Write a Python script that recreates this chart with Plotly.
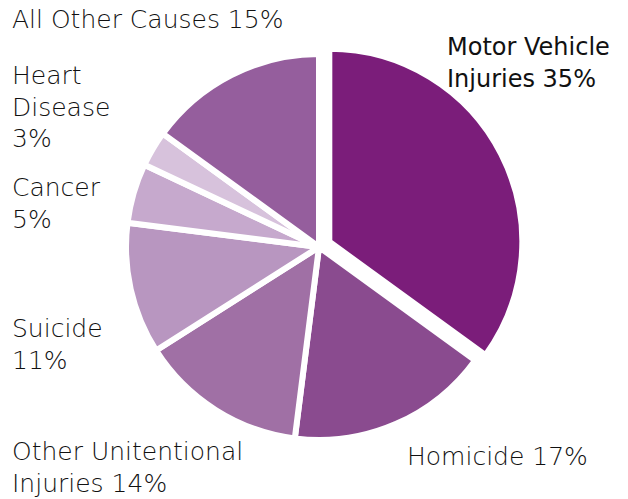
import plotly.graph_objects as go

categories = ["Motor Vehicle Injuries", "Homicide", "Other Unitentional Injuries",
              "Suicide", "Cancer", "Heart Disease", "All Other Causes"]
values = [35, 17, 14, 11, 5, 3, 15]
colors = ["#7B1D7A", "#8A4B8F", "#A070A5", "#B896C0", "#C6A9CD", "#D7C2DC", "#955E9D"]
pulls = [0.06, 0, 0, 0, 0, 0, 0]

# label text lines (as shown on the chart)
label_lines = [
    ["Motor Vehicle", "Injuries 35%"],
    ["Homicide 17%"],
    ["Other Unitentional", "Injuries 14%"],
    ["Suicide", "11%"],
    ["Cancer", "5%"],
    ["Heart", "Disease", "3%"],
    ["All Other Causes 15%"],
]
# label anchor positions in pixels (left x, first-line center y)
label_pos = [(445, 47), (405, 456), (10, 451), (10, 328), (10, 187), (10, 75), (10, 19)]
label_weight = [500, 300, 300, 300, 300, 300, 300]
label_size = [24, 25, 25, 25, 25, 25, 25]

W, H = 628, 499
cx, cy, half = 319, 247, 193 * 1.06
LINE = 32

fig = go.Figure(go.Pie(
    labels=categories, values=values, sort=False, direction="clockwise", rotation=0,
    marker=dict(colors=colors, line=dict(color="white", width=6)),
    pull=pulls, textinfo="none", hoverinfo="label+percent", showlegend=False,
    domain=dict(x=[(cx - half) / W, (cx + half) / W], y=[1 - (cy + half) / H, 1 - (cy - half) / H]),
))

for lines, (lx, ly), wt, sz in zip(label_lines, label_pos, label_weight, label_size):
    for i, t in enumerate(lines):
        fig.add_annotation(
            text=t, x=lx / W, y=1 - (ly + i * LINE) / H, xref="paper", yref="paper",
            xanchor="left", yanchor="middle", showarrow=False,
            font=dict(family="DejaVu Sans", size=sz, color="#111111", weight=wt),
        )

fig.update_layout(width=W, height=H, margin=dict(l=0, r=0, t=0, b=0),
                  paper_bgcolor="white", plot_bgcolor="white")
fig.write_html("out.html", config={"displayModeBar": False},
               post_script="document.body.style.margin='0';document.body.style.overflow='hidden';")
